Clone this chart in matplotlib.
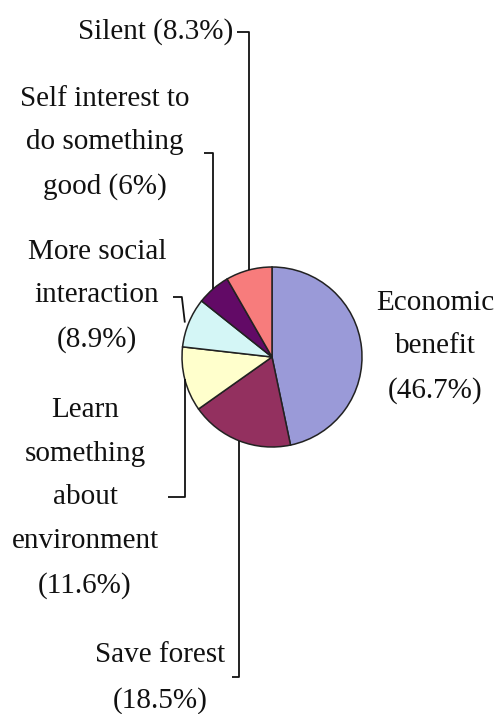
import numpy as np
import matplotlib.pyplot as plt

# share of respondents by motivation
labels = ["Economic\nbenefit", "Save forest", "Learn\nsomething\nabout\nenvironment",
          "More social\ninteraction", "Self interest to\ndo something\ngood", "Silent"]
shares = [46.7, 18.5, 11.6, 8.9, 6.0, 8.3]
joins = ["\n", "\n", "\n", "\n", " ", " "]
colors = ["#9a9ad8", "#93305f", "#ffffcc", "#d4f6f6", "#620a66", "#f77c7c"]

W, H = 502, 714
fig = plt.figure(figsize=(W / 100, H / 100), dpi=100)
ax = fig.add_axes([0, 0, 1, 1])

cx, cy, r = 272, H - 357, 90
wedges, _ = ax.pie(shares, colors=colors, startangle=90, counterclock=False,
                   center=(cx, cy), radius=r, frame=True,
                   wedgeprops=dict(edgecolor="#222222", linewidth=1.1))
ax.set_xlim(0, W)
ax.set_ylim(0, H)
ax.set_aspect("equal")
ax.axis("off")

font = dict(family="Liberation Serif", fontsize=21, color="#111111",
            linespacing=1.88)

# text anchor (px from top-left), alignment and leader tick start
place = [
    dict(x=435, y=347, ha="center", tick=None),
    dict(x=160, y=678, ha="center", tick=(232, 677)),
    dict(x=85, y=498, ha="center", tick=(168, 497)),
    dict(x=97, y=296, ha="center", tick=(173, 297)),
    dict(x=105, y=143, ha="center", tick=(204, 153)),
    dict(x=233, y=32, ha="right", tick=(237, 32)),
]

for w, lab, s, j, p in zip(wedges, labels, shares, joins, place):
    txt = f"{lab}{j}({s:g}%)"
    ax.text(p["x"], H - p["y"], txt, ha=p["ha"], va="center",
            multialignment="center", **font)
    if p["tick"] is None:
        continue
    mid = np.deg2rad((w.theta1 + w.theta2) / 2)
    rx, ry = cx + r * np.cos(mid), cy + r * np.sin(mid)
    tx, ty = p["tick"][0], H - p["tick"][1]
    if tx < 180 and ty > ry:
        # short kinked leader into the side of the pie
        xs, ys = [tx, rx - 7, rx - 4], [ty, ty, ry]
    else:
        xs, ys = [tx, rx, rx], [ty, ty, ry]
    ax.plot(xs, ys, color="#111111", lw=1.3, solid_capstyle="butt")

fig.savefig("out.png", dpi=100)
